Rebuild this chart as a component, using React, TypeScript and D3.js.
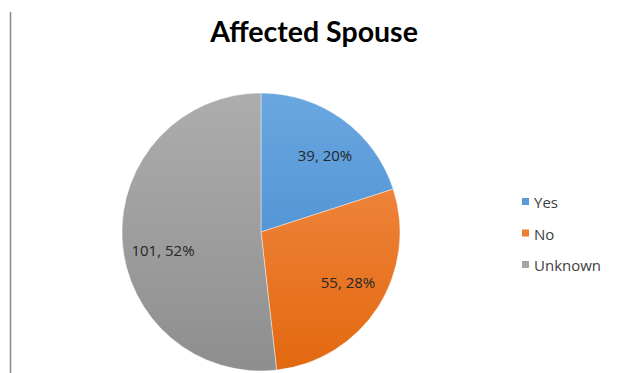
import React from "react";
import * as d3 from "d3";

const categories = ["Yes", "No", "Unknown"];
const values = [39, 55, 101];
const percents = ["20%", "28%", "52%"];
const colorsTop = ["#6aa7e0", "#f39150", "#adadad"];
const colorsBottom = ["#3d84cb", "#e3680f", "#8e8e8e"];
const legendColors = ["#5b9bd5", "#ed7d31", "#a5a5a5"];

export default function App() {
  const W = 617, H = 373;
  const cx = 261, cy = 232, r = 139;
  const pie = d3.pie<number>().sort(null).value((d) => d)(values);
  const arc = d3.arc<d3.PieArcDatum<number>>().innerRadius(0).outerRadius(r);
  const labelPos = [
    [325, 155],
    [348, 282],
    [163, 250],
  ];
  const legendY = d3.scalePoint<string>().domain(categories).range([202, 265]);
  return (
    <svg width={W} height={H} style={{ position: "absolute", left: 0, top: 0, background: "#fff" }}>
      <defs>
        {categories.map((c, i) => (
          <linearGradient key={c} id={"g" + i} gradientUnits="userSpaceOnUse" x1="0" y1={-r} x2="0" y2={r}>
            <stop offset="0" stopColor={colorsTop[i]} />
            <stop offset="1" stopColor={colorsBottom[i]} />
          </linearGradient>
        ))}
      </defs>
      <line x1={10.5} x2={10.5} y1={12} y2={373} stroke="#888" strokeWidth={1.5} />
      <text x={314} y={42} textAnchor="middle" fontFamily="Lato, 'Open Sans', sans-serif" fontWeight="bold" fontSize={28.5} fill="#000">
        Affected Spouse
      </text>
      <g transform={`translate(${cx},${cy})`}>
        {pie.map((p, i) => (
          <path key={i} d={arc(p) || ""} fill={`url(#g${i})`} stroke="#fff" strokeWidth={0.7} strokeOpacity={0.6} />
        ))}
      </g>
      {pie.map((p, i) => (
        <text key={"l" + i} x={labelPos[i][0]} y={labelPos[i][1]} textAnchor="middle" dominantBaseline="central"
          fontFamily="'Open Sans', sans-serif" fontSize={15} fill="#262626">
          {`${values[i]}, ${percents[i]}`}
        </text>
      ))}
      {categories.map((c, i) => (
        <g key={c}>
          <rect x={522} y={(legendY(c) as number) - 4} width={7} height={7} fill={legendColors[i]} />
          <text x={534} y={(legendY(c) as number)} dominantBaseline="central" fontFamily="'Open Sans', sans-serif" fontSize={15} fill="#404040">
            {c}
          </text>
        </g>
      ))}
    </svg>
  );
}
